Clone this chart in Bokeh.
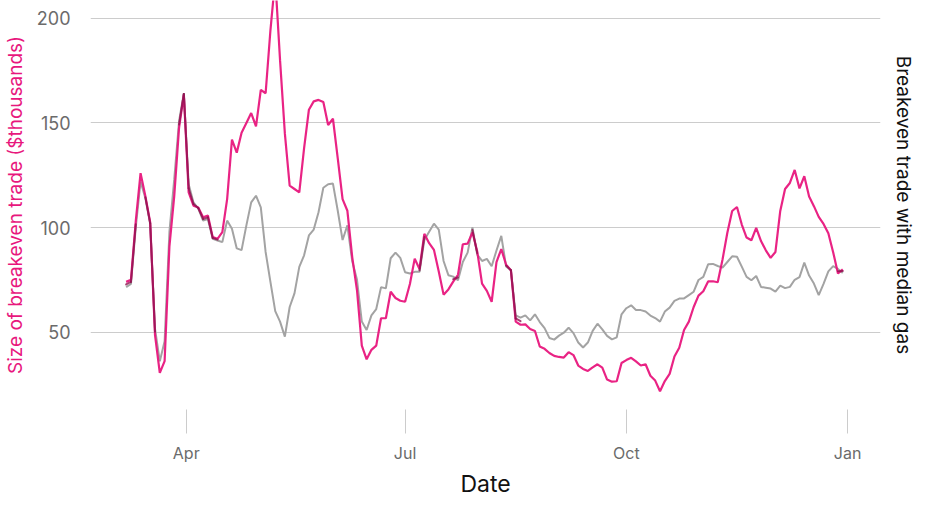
from datetime import datetime
import pandas as pd
from bokeh.plotting import figure
from bokeh.models import (ColumnDataSource, Range1d, LinearAxis, MonthsTicker,
                          DatetimeTickFormatter, SingleIntervalTicker, FixedTicker)
from bokeh.embed import file_html
from bokeh.resources import INLINE

dates = pd.date_range("2021-03-07", periods=150, freq="2D")

breakeven = [
    74.0, 75.0, 103.0, 126.0, 115.0, 102.5, 48.7, 30.5, 36.1, 91.0,
    115.0, 147.6, 163.5, 116.8, 110.4, 109.6, 104.9, 105.7, 95.4, 94.6,
    97.8, 113.6, 142.0, 135.8, 145.3, 150.0, 154.7, 148.4, 165.8, 164.2,
    194.3, 219.0, 180.0, 145.0, 120.0, 118.4, 116.8, 138.0, 156.3, 160.3,
    161.0, 160.0, 149.0, 152.0, 133.0, 113.6, 108.0, 86.0, 70.0, 43.5,
    37.0, 41.5, 43.5, 56.6, 56.6, 69.3, 66.3, 65.0, 64.5, 73.0,
    85.1, 80.2, 97.0, 92.5, 89.3, 79.0, 67.9, 70.4, 74.1, 77.4,
    92.0, 92.3, 97.7, 88.5, 73.2, 69.7, 64.5, 83.5, 89.7, 82.2,
    79.6, 55.0, 53.5, 53.7, 51.5, 50.5, 43.1, 42.0, 40.0, 38.6,
    38.1, 37.8, 40.4, 39.0, 34.0, 32.4, 31.4, 33.1, 34.6, 33.0,
    27.3, 26.3, 26.5, 35.2, 36.6, 37.7, 36.0, 34.0, 34.6, 29.1,
    26.8, 21.7, 26.6, 30.0, 38.3, 42.5, 51.0, 55.0, 62.0, 67.4,
    69.5, 74.2, 74.3, 73.8, 84.7, 97.5, 107.9, 109.8, 101.4, 95.2,
    93.9, 99.8, 93.5, 89.1, 85.5, 88.3, 107.9, 118.4, 121.3, 127.5,
    118.7, 124.5, 114.8, 110.2, 105.1, 101.7, 97.3, 88.2, 78.0, 80.0,
]

median_gas = [
    71.5, 73.0, 100.0, 122.0, 114.0, 101.7, 51.6, 36.0, 45.6, 98.0,
    123.0, 150.8, 164.2, 120.7, 112.0, 109.0, 103.3, 104.0, 94.6, 93.8,
    93.0, 103.3, 99.4, 90.0, 89.2, 101.0, 112.0, 115.2, 109.6, 88.3,
    74.0, 60.0, 55.0, 47.8, 62.0, 68.5, 81.2, 86.7, 96.2, 99.0,
    107.3, 119.0, 120.7, 121.0, 108.0, 94.0, 101.0, 84.0, 75.0, 55.0,
    51.0, 58.0, 61.0, 71.5, 70.9, 85.3, 88.0, 85.5, 78.6, 78.0,
    78.8, 78.8, 94.0, 98.0, 101.8, 99.0, 84.0, 77.2, 76.5, 74.8,
    83.5, 88.0, 100.0, 87.0, 84.0, 85.0, 81.5, 89.0, 96.0, 81.4,
    79.6, 58.0, 56.9, 58.0, 55.6, 58.5, 54.8, 51.9, 47.2, 46.4,
    48.3, 49.7, 52.1, 49.5, 45.0, 42.6, 45.0, 50.6, 54.0, 51.3,
    48.2, 46.5, 47.5, 58.5, 61.4, 62.8, 60.6, 60.5, 59.8, 57.9,
    56.7, 55.0, 59.8, 61.7, 64.9, 66.0, 66.1, 67.7, 69.3, 74.9,
    76.4, 82.4, 82.6, 81.6, 80.8, 83.5, 86.2, 86.0, 81.3, 76.4,
    74.8, 76.8, 71.6, 71.2, 70.8, 69.3, 72.2, 71.0, 71.6, 75.0,
    76.3, 83.2, 77.0, 73.2, 67.7, 73.0, 79.0, 81.5, 80.2, 78.3,
]

tick_months = [0, 3, 6, 9]  # Jan, Apr, Jul, Oct

PINK = "#e8177d"
GRAY = "#a3a3a3"
OVERLAP = "#8e1350"   # where the two lines coincide they blend darker
FONT = "Inter"

src = ColumnDataSource(dict(date=dates, breakeven=breakeven, gas=median_gas))

# segments where the two series (nearly) coincide -> darker blended stroke
ov = dict(x0=[], y0=[], x1=[], y1=[])
for i in range(len(dates) - 1):
    if abs(breakeven[i] - median_gas[i]) < 4 and abs(breakeven[i + 1] - median_gas[i + 1]) < 4:
        ov["x0"].append(dates[i])
        ov["x1"].append(dates[i + 1])
        ov["y0"].append((breakeven[i] + median_gas[i]) / 2)
        ov["y1"].append((breakeven[i + 1] + median_gas[i + 1]) / 2)
ov_src = ColumnDataSource(ov)

p = figure(width=917, height=500, x_axis_type="datetime",
           x_range=Range1d(start=datetime(2021, 2, 20, 4, 20), end=datetime(2022, 1, 14, 16, 30)),
           y_range=Range1d(12.98, 208.54),
           output_backend="svg", toolbar_location=None,
           min_border_left=90, min_border_right=35, min_border_top=0, min_border_bottom=88)
p.title.visible = False
p.outline_line_color = None
p.background_fill_color = "white"
p.border_fill_color = "white"

p.line("date", "gas", source=src, line_color=GRAY, line_width=2)
p.line("date", "breakeven", source=src, line_color=PINK, line_width=2.2, line_alpha=0.95)
p.segment("x0", "y0", "x1", "y1", source=ov_src, line_color=OVERLAP, line_width=2.0,
          line_alpha=0.8, line_cap="round")

# grid
p.xgrid.visible = False
p.ygrid.grid_line_color = "#cccccc"
p.ygrid.grid_line_width = 1

# x axis
xa = p.xaxis[0]
xa.ticker = MonthsTicker(months=tick_months)
xa.formatter = DatetimeTickFormatter(months="%b", days="%b", years="%b")
xa.axis_line_color = None
xa.major_tick_in = 0
xa.major_tick_out = 24
xa.major_tick_line_color = "#cccccc"
xa.minor_tick_line_color = None
xa.major_label_text_font = FONT
xa.major_label_text_font_size = "16px"
xa.major_label_text_color = "#6b6b6b"
xa.major_label_standoff = 9
xa.axis_label = "Date"
xa.axis_label_text_font = FONT
xa.axis_label_text_font_size = "23px"
xa.axis_label_text_font_style = "normal"
xa.axis_label_text_color = "#111111"
xa.axis_label_standoff = 4

# left y axis
ya = p.yaxis[0]
ya.ticker = SingleIntervalTicker(interval=50, num_minor_ticks=0)
ya.axis_line_color = None
ya.major_tick_line_color = None
ya.minor_tick_line_color = None
ya.major_tick_out = 0
ya.major_tick_in = 0
ya.major_label_text_font = FONT
ya.major_label_text_font_size = "18px"
ya.major_label_text_color = "#6b6b6b"
ya.major_label_standoff = 20
ya.axis_label = "Size of breakeven trade ($thousands)"
ya.axis_label_text_font = FONT
ya.axis_label_text_font_size = "19px"
ya.axis_label_text_font_style = "normal"
ya.axis_label_text_color = PINK
ya.axis_label_standoff = 7

# right axis: label only
ra = LinearAxis(ticker=FixedTicker(ticks=[]),
                axis_label="Breakeven trade with median gas",
                axis_line_color=None, major_tick_line_color=None,
                minor_tick_line_color=None, major_tick_out=0, major_tick_in=0,
                major_label_standoff=0,
                axis_label_text_font=FONT, axis_label_text_font_size="19px",
                axis_label_text_font_style="normal", axis_label_text_color="#111111",
                axis_label_standoff=11)
p.add_layout(ra, "right")

open("out.html", "w").write(file_html(p, INLINE))
